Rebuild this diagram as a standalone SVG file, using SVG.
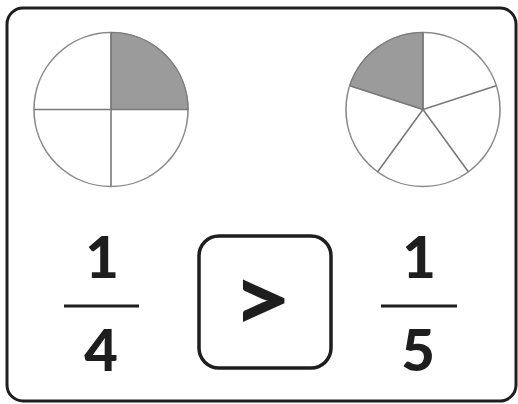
<svg xmlns="http://www.w3.org/2000/svg" width="518" height="404" viewBox="0 0 518 404">
<style>
.pie{fill:#fff;stroke:#8a8a8a;stroke-width:1.6}
.div{stroke:#7a7a7a;stroke-width:1.6;fill:none}
.shade{fill:#9b9b9b;stroke:#7a7a7a;stroke-width:1.2}
.num{font-family:Lato,"Open Sans",sans-serif;font-weight:900;font-size:58px;fill:#1e1e1e;text-anchor:middle}
.bar{stroke:#1e1e1e;stroke-width:3}
</style>
<rect width="518" height="404" fill="#fff"/>
<rect id="frame" x="7" y="8" width="509" height="393" rx="16" fill="none" stroke="#1e1e1e" stroke-width="3"/>
<g id="pie-quarters">
<circle class="pie" cx="111" cy="109.5" r="77"/>
<path class="shade" d="M111,109.5 V32.5 A77,77 0 0 1 188,109.5 Z"/>
<path class="div" d="M111,32.5 V186.5 M34,109.5 H188"/>
</g>
<g id="pie-fifths">
<circle class="pie" cx="423" cy="109.5" r="77"/>
<path class="shade" d="M423,109.5 V32.5 A77,77 0 0 0 349.8,85.7 Z"/>
<path class="div" d="M423,109.5 V32.5 M423,109.5 L349.8,85.7 M423,109.5 L496.2,85.7 M423,109.5 L377.7,171.8 M423,109.5 L468.3,171.8"/>
</g>
<g id="frac-left">
<text class="num" x="102" y="278">1</text>
<line class="bar" x1="64" y1="306" x2="139" y2="306"/>
<text class="num" x="101" y="371">4</text>
</g>
<g id="compare">
<rect x="199" y="236" width="132" height="132" rx="20" fill="none" stroke="#1e1e1e" stroke-width="3.5"/>
<text class="num" x="0" y="0" style="font-size:90px" transform="translate(262,331) scale(1.15,1)">&gt;</text>
</g>
<g id="frac-right">
<text class="num" x="419" y="278">1</text>
<line class="bar" x1="381" y1="306" x2="457" y2="306"/>
<text class="num" x="418" y="371">5</text>
</g>
</svg>
